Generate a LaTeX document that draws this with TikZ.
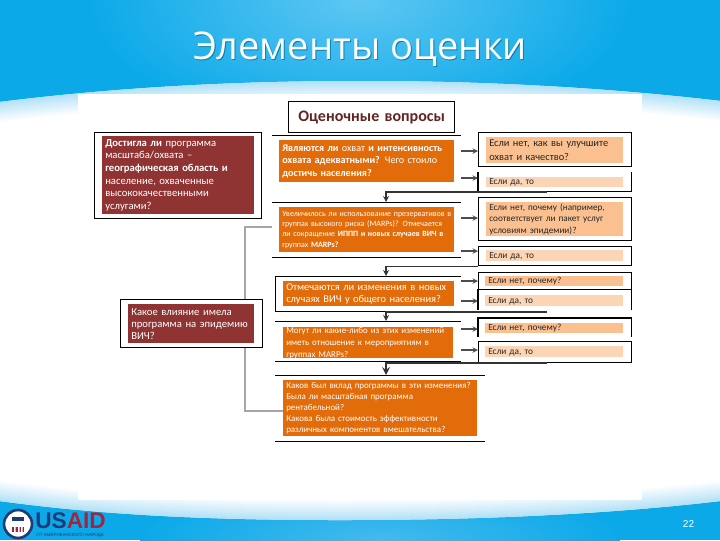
\documentclass[tikz,border=0pt]{standalone}
\usepackage{fontspec}
\setmainfont{Carlito}
\newfontfamily\headfont{Open Sans}
\newfontfamily\logofont{Liberation Sans}
\usetikzlibrary{arrows.meta}
\definecolor{backblue}{HTML}{0CA9E9}
\definecolor{edgeblue}{HTML}{B4E2F7}
\definecolor{redfill}{HTML}{8F3333}
\definecolor{orangefill}{HTML}{E36C0A}
\definecolor{peachdark}{HTML}{FAC090}
\definecolor{peachlight}{HTML}{FBD5B5}
\definecolor{headtext}{HTML}{632523}
\definecolor{bracketgray}{HTML}{A6A6A6}
\definecolor{usnavy}{HTML}{1F3B7A}
\definecolor{usred}{HTML}{A5243D}
\pgfdeclareradialshading{topglow}{\pgfpoint{0bp}{0bp}}{rgb(0bp)=(.37,.78,.95); rgb(25bp)=(.047,.663,.914); rgb(50bp)=(.047,.663,.914)}
\pgfdeclareradialshading{lowglow}{\pgfpoint{0bp}{0bp}}{rgb(0bp)=(.27,.73,.93); rgb(25bp)=(.047,.663,.914); rgb(50bp)=(.047,.663,.914)}
\newcommand{\topedge}{(0,102) .. controls (120,87) and (240,81) .. (360,81) .. controls (480,81) and (600,87) .. (720,101)}
\newcommand{\lowedge}{(0,501) .. controls (110,516) and (220,520) .. (340,520) .. controls (470,520) and (600,515) .. (720,501)}
\newcommand{\lowedgeback}{-- (720,501) .. controls (600,515) and (470,520) .. (340,520) .. controls (220,520) and (110,516) .. (0,501) -- cycle}
\tikzset{
  wh/.style 2 args={minimum width=#1*0.75pt, minimum height=#2*0.75pt, text width=(#1-6)*0.75pt},
  panel/.style={anchor=north west, inner ysep=0pt, inner xsep=2.25pt, align=left},
  frame/.style={panel, draw=black, line width=1pt},
  openframe/.style={panel},
  frameline/.style={draw=black, line width=1pt},
  redbox/.style={panel, fill=redfill, text=white, font=\fontsize{8}{9.5}\selectfont},
  orangebox/.style={panel, fill=orangefill, text=white},
  peachbox/.style={panel, fill=peachdark, text=black!85, font=\fontsize{7.8}{10}\selectfont},
  yesbox/.style={peachbox, fill=peachlight, font=\fontsize{7}{7}\selectfont, text height=5pt, text depth=1.5pt},
  nobox/.style={yesbox, fill=peachdark},
  rule/.style={draw=black, line width=0.7pt},
  flow/.style={->, draw=black!70, line width=0.8pt},
  elbow/.style={->, draw=black!80, line width=1pt},
}
\begin{document}
\begin{tikzpicture}[x=0.75pt, y=-0.75pt, >=stealth]
  \useasboundingbox (0,0) rectangle (720,540);
  % background
  \fill[backblue] (0,0) rectangle (720,540);
  \shade[shading=topglow] (360,0) ellipse [x radius=270, y radius=130];
  \shade[shading=lowglow] (380,540) ellipse [x radius=240, y radius=55];
  \fill[white] \topedge \lowedgeback;
  \begin{scope}
    \clip \topedge \lowedgeback;
    \foreach \i in {20,19,...,0} {
      \pgfmathsetmacro{\p}{100-5*\i}
      \draw[draw=edgeblue!\p!white, line width=1.5pt, yshift=\i*0.75pt] \lowedge;
      \draw[draw=edgeblue!\p!white, line width=1.5pt, yshift=-\i*0.75pt] \topedge;
    }
  \end{scope}
  \fill[white] (78,94) rectangle (642,500);
  % title
  \node[text=black!25!backblue, font=\headfont\fontsize{28.6}{28.6}\selectfont] (titleshade) at (361,50.5) {Элементы оценки};
  \node[text=white, font=\headfont\fontsize{28.6}{28.6}\selectfont] (title) at (360,49) {Элементы оценки};
  % heading
  \node[frame, wh={166}{31}, align=center, text=headtext, font=\bfseries\fontsize{12}{12}\selectfont] (head) at (288,101) {Оценочные вопросы};
  % gray bracket
  \coordinate (brackettop) at (272,227);
  \coordinate (bracketlow) at (283,411);
  \draw[draw=bracketgray, line width=1.2pt] (brackettop) -- (245,227) -- (245,411) -- (bracketlow);
  % left column
  \node[frame, fill=white, wh={167}{86}] (leftA) at (94,132) {};
  \node[redbox, wh={152}{78}] (questionA) at (102,136) {\textbf{Достигла ли} программа\\масштаба/охвата --\\\textbf{географическая область и}\\население, охваченные\\высококачественными\\услугами?};
  \node[frame, fill=white, wh={142}{48}] (leftB) at (120,299) {};
  \node[redbox, wh={126}{39}, font=\fontsize{8}{9}\selectfont] (questionB) at (128,304) {Какое влияние имела\\программа на эпидемию\\ВИЧ?};
  % middle column
  \node[orangebox, wh={175}{42}, font=\fontsize{7.6}{9.4}\selectfont] (midA) at (279,140) {\textbf{Являются ли} охват \textbf{и интенсивность}\\\textbf{охвата адекватными?} Чего стоило\\\textbf{достичь населения?}};
  \node[orangebox, wh={175}{45}, font=\fontsize{6}{7.7}\selectfont] (midB) at (279,207) {Увеличилось ли использование презервативов в\\группах высокого риска (MARPs)? Отмечается\\ли сокращение \textbf{ИППП и новых случаев ВИЧ в}\\группах \textbf{MARPs?}};
  \node[orangebox, wh={171}{25}, font=\fontsize{7.8}{9}\selectfont] (midC) at (283,281) {Отмечаются ли изменения в новых\\случаях ВИЧ у общего населения?};
  \node[orangebox, wh={170}{31}, font=\fontsize{6.7}{9}\selectfont] (midD) at (283,327) {\parbox[t][21pt][t]{\linewidth}{\raggedright\vspace{-1pt}Могут ли какие-либо из этих изменений\\иметь отношение к мероприятиям в\\группах MARPs?}};
  \node[orangebox, wh={194}{56}, font=\fontsize{6.7}{8.25}\selectfont] (midE) at (283,380) {Каков был вклад программы в эти изменения?\\Была ли масштабная программа\\рентабельной?\\Какова была стоимость эффективности\\различных компонентов вмешательства?};
  \draw[rule] (272,135) -- (461,135);
  \draw[rule] (272,202) -- (461,202);
  \draw[rule] (272,257) -- (461,257);
  \draw[rule] (461,276) -- (275,276) -- (275,311) -- (461,311);
  \draw[rule] (275,321) -- (461,321);
  \draw[rule] (275,361) -- (461,361);
  \draw[rule] (275,375) -- (485,375);
  \draw[rule] (275,441) -- (485,441);
  % right column
  \node[frame, wh={153}{34}] (ansA) at (478,132) {};
  \node[peachbox, wh={137}{26}] (ansAtext) at (486,137) {Если нет, как вы улучшите\\охват и качество?};
  \node[openframe, wh={153}{19}] (ansB) at (478,172) {};
  \node[yesbox, wh={137}{10}] (ansBtext) at (486,177) {Если да, то};
  \node[frame, wh={153}{43}] (ansC) at (478,197) {};
  \node[peachbox, wh={137}{34}, font=\fontsize{6.9}{8.4}\selectfont] (ansCtext) at (486,202) {Если нет, почему (например,\\соответствует ли пакет услуг\\условиям эпидемии)?};
  \node[frame, wh={153}{19}] (ansD) at (478,246) {};
  \node[yesbox, wh={137}{11}] (ansDtext) at (486,250) {Если да, то};
  \node[frame, wh={153}{17}] (ansE) at (478,272) {};
  \node[nobox, wh={138}{10}] (ansEtext) at (485,276) {Если нет, почему?};
  \node[openframe, wh={153}{20}] (ansF) at (478,289) {};
  \node[yesbox, wh={138}{11}] (ansFtext) at (485,295) {Если да, то};
  \node[openframe, wh={153}{18}] (ansG) at (478,318) {};
  \node[nobox, wh={138}{10}] (ansGtext) at (485,323) {Если нет, почему?};
  \node[frame, wh={153}{21}] (ansH) at (478,341) {};
  \node[yesbox, wh={138}{11}] (ansHtext) at (485,346) {Если да, то};
  \draw[frameline] (ansB.north west) -- (ansB.south west) -- (ansB.south east) -- (ansB.north east);
  \draw[frameline] (ansF.north west) -- (ansF.south west) (ansF.north east) -- (ansF.south east);
  \draw[frameline] (ansG.south west) -- (ansG.north west) -- (ansG.north east) -- (ansG.south east);
  % arrows to the answers
  \foreach \name/\y in {ansA/151, ansB/178, ansC/218, ansD/251, ansE/281, ansF/301, ansG/329, ansH/350} {
    \coordinate (from\name) at (461,\y);
    \draw[flow] (from\name) -- (\name.west |- from\name);
  }
  % connectors between the rows
  \coordinate (startA) at (547,192);
  \coordinate (startC) at (547,312);
  \coordinate (startD) at (547,363);
  \coordinate (endA) at (386,202);
  \coordinate (endB) at (386,276);
  \coordinate (endC) at (386,321);
  \coordinate (endD) at (386,375);
  \draw[elbow] (startA) -| (endA);
  \draw[elbow] (ansD.south west) -| (endB);
  \draw[elbow] (startC) -| (endC);
  \draw[elbow, line width=1.6pt] (startD) -| (endD);
  % logo
  \node[circle, draw=usnavy, fill=white, line width=2pt, minimum size=21pt, inner sep=0pt] (seal) at (18,524) {};
  \fill[usnavy] (12,517) rectangle (24,521);
  \fill[usred] (12,527) rectangle (24,532);
  \fill[white] (14,527) rectangle (15.5,532) (18,527) rectangle (19.5,532) (21,527) rectangle (22.5,532);
  \node[anchor=west, inner sep=0pt, font=\logofont\bfseries\fontsize{17}{17}\selectfont] (logotext) at (35,521) {\textcolor{usnavy}{US}\textcolor{usred}{AID}};
  \node[anchor=west, inner sep=0pt, text=usnavy, font=\logofont\fontsize{3.4}{4}\selectfont] (logosub) at (36,535) {ОТ АМЕРИКАНСКОГО НАРОДА};
  % page number
  \node[text=white, font=\logofont\fontsize{7.5}{8}\selectfont] (pagenum) at (688.5,524) {22};
\end{tikzpicture}
\end{document}
